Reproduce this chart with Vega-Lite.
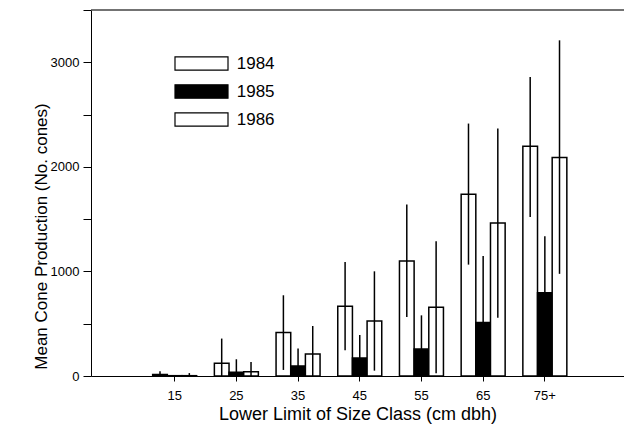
{
  "$schema": "https://vega.github.io/schema/vega-lite/v6.json",
  "width": 533,
  "height": 366,
  "autosize": {"type": "none"},
  "padding": {"left": 91, "top": 10, "right": 0, "bottom": 50},
  "background": "white",
  "config": {
    "view": {"stroke": null},
    "font": "Liberation Sans",
    "axis": {"labelFont": "Liberation Sans", "titleFont": "Liberation Sans", "titleFontWeight": "normal", "labelColor": "black", "titleColor": "black", "domainColor": "black", "tickColor": "black", "grid": false}
  },
  "data": {
    "values": [
      {"size": "15", "year": "1984", "mean": 15, "lo": 0, "hi": 45},
      {"size": "15", "year": "1985", "mean": 3, "lo": 0, "hi": 8},
      {"size": "15", "year": "1986", "mean": 3, "lo": 0, "hi": 28},
      {"size": "25", "year": "1984", "mean": 121, "lo": 0, "hi": 358},
      {"size": "25", "year": "1985", "mean": 35, "lo": 0, "hi": 160},
      {"size": "25", "year": "1986", "mean": 40, "lo": 0, "hi": 134},
      {"size": "35", "year": "1984", "mean": 415, "lo": 58, "hi": 772},
      {"size": "35", "year": "1985", "mean": 96, "lo": 0, "hi": 262},
      {"size": "35", "year": "1986", "mean": 210, "lo": 0, "hi": 478},
      {"size": "45", "year": "1984", "mean": 668, "lo": 246, "hi": 1090},
      {"size": "45", "year": "1985", "mean": 172, "lo": 0, "hi": 392},
      {"size": "45", "year": "1986", "mean": 526, "lo": 51, "hi": 1001},
      {"size": "55", "year": "1984", "mean": 1100, "lo": 564, "hi": 1639},
      {"size": "55", "year": "1985", "mean": 258, "lo": 0, "hi": 580},
      {"size": "55", "year": "1986", "mean": 657, "lo": 26, "hi": 1288},
      {"size": "65", "year": "1984", "mean": 1738, "lo": 1065, "hi": 2414},
      {"size": "65", "year": "1985", "mean": 511, "lo": 0, "hi": 1148},
      {"size": "65", "year": "1986", "mean": 1463, "lo": 558, "hi": 2366},
      {"size": "75+", "year": "1984", "mean": 2197, "lo": 1520, "hi": 2859},
      {"size": "75+", "year": "1985", "mean": 797, "lo": 258, "hi": 1336},
      {"size": "75+", "year": "1986", "mean": 2089, "lo": 977, "hi": 3210}
    ]
  },
  "encoding": {
    "x": {
      "field": "size", "type": "nominal", "sort": null,
      "scale": {"paddingInner": 0.287, "paddingOuter": 0.963, "align": 0.519},
      "axis": {"title": "Lower Limit of Size Class (cm dbh)", "labelAngle": 0, "tickSize": 5, "labelFontSize": 13, "titleFontSize": 18, "labelPadding": 8, "titlePadding": 3}
    },
    "xOffset": {"field": "year", "type": "nominal", "scale": {"paddingInner": 0, "paddingOuter": 0}}
  },
  "layer": [
    {
      "mark": {"type": "bar", "stroke": "black", "strokeWidth": 1.5},
      "encoding": {
        "y": {
          "field": "mean", "type": "quantitative",
          "scale": {"domain": [0, 3500], "nice": false},
          "axis": {"title": "Mean Cone Production (No. cones)", "values": [0, 500, 1000, 1500, 2000, 2500, 3000, 3500], "labelExpr": "datum.value % 1000 == 0 ? datum.value : ''", "tickSize": 8, "labelFontSize": 13, "titleFontSize": 17, "labelPadding": 4, "titleX": -50, "titleY": 226, "titleBaseline": "middle"}
        },
        "fill": {
          "field": "year", "type": "nominal",
          "scale": {"domain": ["1984", "1985", "1986"], "range": ["white", "black", "white"]},
          "legend": {
            "title": null, "orient": "none", "legendX": 102, "legendY": 45,
            "symbolType": "M-4,-1H4V1H-4Z", "symbolSize": 175.6,
            "symbolStrokeColor": "black", "symbolStrokeWidth": 1.2,
            "labelFontSize": 17, "labelFont": "Liberation Sans", "labelOffset": 26.75, "rowPadding": 9
          }
        }
      }
    },
    {
      "mark": {"type": "rule", "color": "black", "strokeWidth": 1.5},
      "encoding": {
        "y": {"field": "lo", "type": "quantitative"},
        "y2": {"field": "hi"}
      }
    },
    {
      "data": {"values": [{"top": 3500}]},
      "mark": {"type": "rule", "color": "#444", "strokeWidth": 1.5},
      "encoding": {
        "y": {"field": "top", "type": "quantitative"},
        "x": {"value": 0},
        "x2": {"value": 533},
        "xOffset": null
      }
    }
  ]
}
